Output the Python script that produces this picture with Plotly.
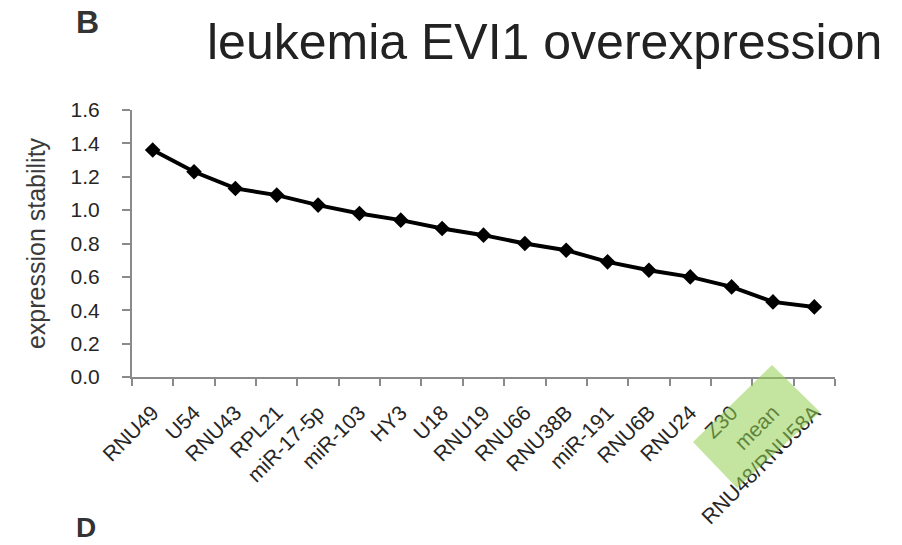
import plotly.graph_objects as go

# ---- data ----
genes = ["RNU49", "U54", "RNU43", "RPL21", "miR-17-5p", "miR-103", "HY3", "U18",
         "RNU19", "RNU66", "RNU38B", "miR-191", "RNU6B", "RNU24", "Z30", "mean",
         "RNU48/RNU58A"]
stability = [1.36, 1.23, 1.13, 1.09, 1.03, 0.98, 0.94, 0.89, 0.85, 0.80, 0.76,
             0.69, 0.64, 0.60, 0.54, 0.45, 0.42]
y_ticks = [0.0, 0.2, 0.4, 0.6, 0.8, 1.0, 1.2, 1.4, 1.6]
y_tick_text = [f"{v:.1f}" for v in y_ticks]
title_text = "leukemia EVI1 overexpression"
y_title = "expression stability"

# ---- layout geometry (pixels) ----
W, H = 902, 545
L, R, T, B = 132, 67, 110, 168
PW, PH = W - L - R, H - T - B


def px(x):
    return (x - L) / PW


def py(y):
    return (H - B - y) / PH


FONT = "Liberation Sans, Arial, sans-serif"
AXIS_COLOR = "#8a8a8a"
TEXT_COLOR = "#262626"

fig = go.Figure()
fig.add_trace(go.Scatter(
    x=genes, y=stability, mode="lines+markers",
    line=dict(color="black", width=4),
    marker=dict(symbol="diamond", size=12, color="black"),
    showlegend=False, cliponaxis=False,
))

# green highlight box (rotated rectangle over last labels)
corners = [(772, 365), (820, 412), (737, 488), (693, 442)]
path = "M " + " L ".join(f"{px(a):.4f},{py(b):.4f}" for a, b in corners) + " Z"
fig.add_shape(type="path", path=path, xref="paper", yref="paper",
              fillcolor="#92D050", opacity=0.55, line=dict(width=0), layer="above")

fig.update_layout(
    width=W, height=H,
    margin=dict(l=L, r=R, t=T, b=B),
    paper_bgcolor="white", plot_bgcolor="white",
    font=dict(family=FONT, color=TEXT_COLOR),
    xaxis=dict(
        range=[-0.5, len(genes) - 0.5], tickangle=-45, tickson="boundaries",
        ticks="outside", ticklen=7, tickwidth=1.5, tickcolor=AXIS_COLOR,
        showline=True, linecolor=AXIS_COLOR, linewidth=2,
        showgrid=False, zeroline=False,
        tickfont=dict(size=21, color=TEXT_COLOR, family=FONT),
        ticklabelstandoff=13,
    ),
    yaxis=dict(
        range=[0, 1.6], tickvals=y_ticks, ticktext=y_tick_text,
        ticks="outside", ticklen=8, tickwidth=1.5, tickcolor=AXIS_COLOR,
        showline=True, linecolor=AXIS_COLOR, linewidth=2,
        showgrid=False, zeroline=False,
        tickfont=dict(size=21, color=TEXT_COLOR, family=FONT),
        ticklabelstandoff=18,
        title=dict(text=y_title, font=dict(size=25, color="#3a3a3a", family=FONT),
                   standoff=18),
    ),
    annotations=[
        dict(text=title_text, xref="paper", yref="paper", x=px(205), y=py(42),
             xanchor="left", yanchor="middle", showarrow=False,
             font=dict(size=50, color="#222222", family=FONT)),
        dict(text="<b>B</b>", xref="paper", yref="paper", x=px(74), y=py(22),
             xanchor="left", yanchor="middle", showarrow=False,
             font=dict(size=32, color="#333333", family=FONT)),
        dict(text="<b>D</b>", xref="paper", yref="paper", x=px(74), y=py(545),
             xanchor="left", yanchor="bottom", showarrow=False,
             font=dict(size=28, color="#333333", family=FONT)),
    ],
)

fig.write_html("out.html")
